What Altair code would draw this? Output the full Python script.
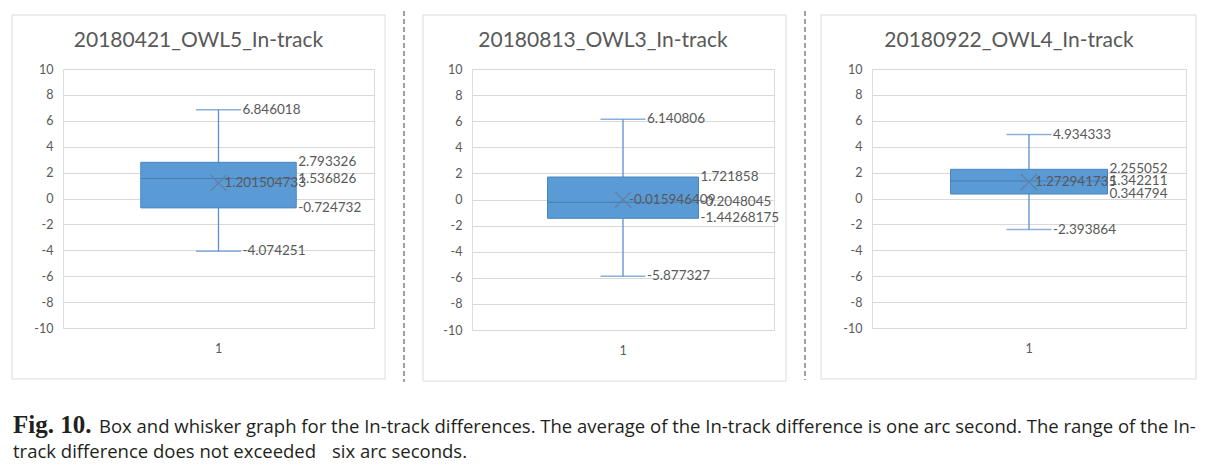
import altair as alt
import pandas as pd

# ---- data ----
titles = ["20180421_OWL5_In-track", "20180813_OWL3_In-track", "20180922_OWL4_In-track"]
maxs = [6.846018, 6.140806, 4.934333]
q3s = [2.793326, 1.721858, 2.255052]
medians = [1.536826, -0.2048045, 1.342211]
q1s = [-0.724732, -1.44268175, 0.344794]
mins = [-4.074251, -5.877327, -2.393864]
means = [1.201504733, -0.015946409, 1.272941735]
category = "1"
y_ticks = [-10, -8, -6, -4, -2, 0, 2, 4, 6, 8, 10]

fig_label = "Fig. 10."
caption_1 = ("Box and whisker graph for the In-track differences. The average of the In-track "
             "difference is one arc second. The range of the In-")
caption_2a = "track difference does not exceeded"
caption_2b = "six arc seconds."

# ---- styling ----
FILL = "#5B9BD5"
EDGE = "#4A86C5"
WHISK = "#5B8FCB"
MED = "#41719C"
TXT = "#595959"
GRID = "#d9d9d9"
FONT = "Lato"
CAP_FONT = "Open Sans"
CAP_COL = "#231f20"

# panel layout: (plot width, plot height, border left, border right extra, separator x or None)
layout = [
    (311, 259, -51, 11, None),
    (302, 261, -49, 12, -68),
    (314, 259, -51, 10, -67),
]


def text_layer(txt, **kw):
    enc = {k: v for k, v in kw.items() if k in ("x", "y")}
    mk = {k: v for k, v in kw.items() if k not in ("x", "y")}
    return alt.Chart(pd.DataFrame({"t": [txt]})).mark_text(**mk).encode(text="t:N", **enc)


def panel(i):
    w, h, bl, br, sep = layout[i]
    df = pd.DataFrame({
        "cat": [category],
        "mn": [mins[i]], "q1": [q1s[i]], "med": [medians[i]],
        "q3": [q3s[i]], "mx": [maxs[i]], "mean": [means[i]],
        "mn_t": [str(mins[i])], "q1_t": [str(q1s[i])], "med_t": [str(medians[i])],
        "q3_t": [str(q3s[i])], "mx_t": [str(maxs[i])], "mean_t": [str(means[i])],
    })
    base = alt.Chart(df)
    x = alt.X("cat:N",
              scale=alt.Scale(paddingInner=0, paddingOuter=0.5),
              axis=alt.Axis(title=None, labelAngle=0, ticks=False, tickSize=0, domain=False,
                            grid=False, labelPadding=14, labelFontSize=12.5,
                            labelColor=TXT, labelFont=FONT))
    yscale = alt.Scale(domain=[-10, 10], nice=False, zero=False)
    yaxis = alt.Axis(title=None, values=y_ticks, domain=False, ticks=False, tickSize=0,
                     grid=True, gridColor=GRID, gridWidth=1, labelPadding=10,
                     labelExpr="'' + datum.value",
                     labelFontSize=12.5, labelColor=TXT, labelFont=FONT)

    layers = []
    layers.append(base.mark_rect(fillOpacity=0, stroke="#dcdcdc", strokeWidth=1).encode(
        x=alt.value(bl), x2=alt.value(w + br), y=alt.value(-54), y2=alt.value(h + 51)))
    if sep is not None:
        layers.append(base.mark_rule(color="#444444", strokeWidth=1, strokeDash=[5, 3]).encode(
            x=alt.value(sep), y=alt.value(-58), y2=alt.value(h + 52)))

    layers.append(base.mark_rule(color=WHISK, strokeWidth=1.3).encode(
        x=x, y=alt.Y("q3:Q", scale=yscale, axis=yaxis), y2="mx:Q"))
    layers.append(base.mark_rule(color=WHISK, strokeWidth=1.3).encode(
        x=x, y=alt.Y("mn:Q", scale=yscale, axis=yaxis), y2="q1:Q"))
    layers.append(base.mark_bar(color=FILL, stroke=EDGE, strokeWidth=1).encode(
        x=x, y=alt.Y("q1:Q", scale=yscale, axis=yaxis), y2="q3:Q"))
    layers.append(base.mark_tick(color=MED, size=w / 2, thickness=1, orient="horizontal").encode(
        x=x, y=alt.Y("med:Q", scale=yscale, axis=yaxis)))
    for fld in ["mx", "mn"]:
        layers.append(base.mark_tick(color=WHISK, size=45, thickness=1.5, orient="horizontal").encode(
            x=x, y=alt.Y(f"{fld}:Q", scale=yscale, axis=yaxis)))
    layers.append(base.mark_point(shape="M-1,-1L1,1M-1,1L1,-1", size=260, filled=False,
                                  color="#5f80a8", strokeWidth=1.3, opacity=1).encode(
        x=x, y=alt.Y("mean:Q", scale=yscale, axis=yaxis)))

    def label(fld, dx):
        return base.mark_text(align="left", baseline="middle", dx=dx, font=FONT,
                              fontSize=13.5, color=TXT).encode(
            x=x, y=alt.Y(f"{fld}:Q", scale=yscale, axis=yaxis), text=f"{fld}_t:N")

    layers.append(label("mx", 24))
    layers.append(label("mn", 24))
    layers.append(label("mean", 6))
    layers.append(label("q3", w / 4 + 2))
    layers.append(label("med", w / 4 + 2))
    layers.append(label("q1", w / 4 + 2))

    # panel title (centred on the framed chart area)
    layers.append(text_layer(titles[i], x=alt.value(w / 2 - 20), y=alt.value(-22),
                             align="center", baseline="alphabetic", font=FONT,
                             fontSize=21, color=TXT))

    if i == 0:
        layers.append(text_layer(fig_label, x=alt.value(-50), y=alt.value(364),
                                 align="left", baseline="alphabetic", font="Liberation Serif",
                                 fontWeight="bold", fontSize=25, color=CAP_COL))
        layers.append(text_layer(caption_1, x=alt.value(36), y=alt.value(364),
                                 align="left", baseline="alphabetic", font=CAP_FONT,
                                 fontSize=18.5, color=CAP_COL))
        layers.append(text_layer(caption_2a, x=alt.value(-50), y=alt.value(389),
                                 align="left", baseline="alphabetic", font=CAP_FONT,
                                 fontSize=18.5, color=CAP_COL))
        layers.append(text_layer(caption_2b, x=alt.value(269), y=alt.value(389),
                                 align="left", baseline="alphabetic", font=CAP_FONT,
                                 fontSize=18.5, color=CAP_COL))

    return alt.layer(*layers).properties(width=w, height=h)


chart = alt.hconcat(panel(0), panel(1), panel(2), spacing=98, bounds="flush").properties(
    padding={"left": 3, "top": 2, "right": 0, "bottom": 0}
).configure_view(stroke="transparent").configure(background="white")

chart.save("out.html", embed_options={"renderer": "svg", "actions": False})
